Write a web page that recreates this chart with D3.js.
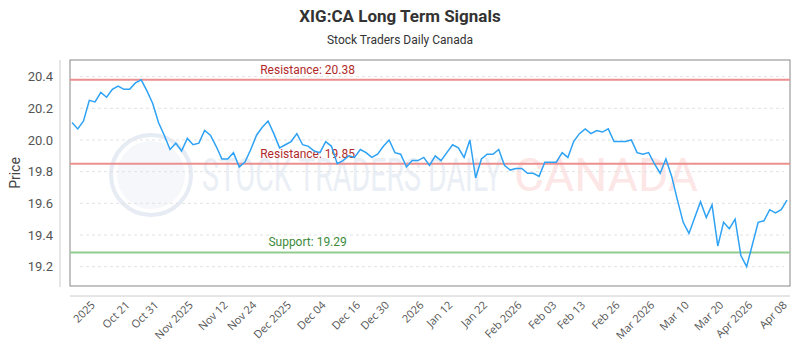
<!DOCTYPE html>
<html>
<head>
<meta charset="utf-8">
<script src="https://cdn.jsdelivr.net/npm/d3@7"></script>
<style>
  body { margin: 0; background: #fff; }
  #chart svg { display: block; }
</style>
</head>
<body>
<div id="chart"></div>
<script>
// closing prices, one per trading day
const prices = [
  20.11, 20.07, 20.12, 20.25, 20.24, 20.30, 20.27, 20.32, 20.34, 20.32,
  20.32, 20.36, 20.38, 20.31, 20.23, 20.11, 20.03, 19.94, 19.98, 19.93,
  20.01, 19.97, 19.98, 20.06, 20.03, 19.96, 19.88, 19.88, 19.92, 19.83,
  19.86, 19.94, 20.03, 20.08, 20.12, 20.04, 19.95, 19.97, 19.99, 20.04,
  19.97, 19.96, 19.93, 19.92, 19.99, 19.96, 19.85, 19.87, 19.90, 19.89,
  19.94, 19.92, 19.89, 19.91, 19.96, 20.00, 19.92, 19.91, 19.83, 19.87,
  19.87, 19.89, 19.84, 19.90, 19.87, 19.92, 19.97, 19.95, 19.89, 20.00,
  19.76, 19.88, 19.91, 19.91, 19.94, 19.84, 19.81, 19.82, 19.82, 19.79,
  19.79, 19.77, 19.86, 19.86, 19.86, 19.92, 19.89, 19.99, 20.04, 20.07,
  20.04, 20.06, 20.05, 20.07, 19.99, 19.99, 19.99, 20.00, 19.92, 19.91,
  19.92, 19.85, 19.79, 19.88, 19.77, 19.62, 19.48, 19.41, 19.51, 19.61,
  19.51, 19.59, 19.33, 19.48, 19.44, 19.50, 19.27, 19.20, 19.34, 19.48,
  19.49, 19.56, 19.54, 19.56, 19.62
];

const tickLabels = ["2025", "Oct 21", "Oct 31", "Nov 2025", "Nov 12", "Nov 24", "Dec 2025",
  "Dec 04", "Dec 16", "Dec 30", "2026", "Jan 12", "Jan 22", "Feb 2026", "Feb 03", "Feb 13",
  "Feb 26", "Mar 2026", "Mar 10", "Mar 20", "Apr 2026", "Apr 08"];
const tickIndex = [4, 10, 15, 21, 27, 32, 38, 44, 50, 55, 61, 66, 72, 78, 84, 89, 95, 101, 107, 113, 118, 124];

const yTicks = [19.2, 19.4, 19.6, 19.8, 20.0, 20.2, 20.4];

const levelNames = ["Resistance", "Resistance", "Support"];
const levelValues = [20.38, 19.85, 19.29];
const levelKinds = ["res", "res", "sup"];

const width = 800, height = 350;
const margin = ({top: 60, right: 10, bottom: 64, left: 70});

const x = d3.scaleLinear()
    .domain([0, prices.length - 1])
    .range([margin.left + 2, width - margin.right - 3]);

const y = d3.scaleLinear()
    .domain([19.078, 20.505])
    .range([height - margin.bottom, margin.top]);

const svg = d3.select("#chart").append("svg")
    .attr("width", width).attr("height", height);

// title
svg.append("text")
    .attr("x", width/2).attr("y", 22)
    .attr("text-anchor", "middle")
    .style("font-family", "Roboto, sans-serif").style("font-size", "17px")
    .style("font-weight", "bold").attr("fill", "#333")
    .text("XIG:CA Long Term Signals");
svg.append("text")
    .attr("x", width/2).attr("y", 44)
    .attr("text-anchor", "middle")
    .style("font-family", "Roboto, sans-serif").style("font-size", "12px")
    .attr("fill", "#333")
    .text("Stock Traders Daily Canada");

// watermark
let wm = svg.append("g").attr("opacity", 0.35);
wm.append("circle")
    .attr("cx", 151).attr("cy", 175).attr("r", 40)
    .attr("fill", "none").attr("stroke", "#b8c8e0").attr("stroke-width", 4);
wm.append("circle")
    .attr("cx", 151).attr("cy", 175).attr("r", 34)
    .attr("fill", "#e4ebf5");
wm.append("text")
    .attr("x", 202).attr("y", 191)
    .attr("textLength", 300).attr("lengthAdjust", "spacingAndGlyphs")
    .style("font-family", "Roboto, sans-serif")
    .style("font-size", "46px")
    .attr("fill", "#c6d3e6")
    .text("STOCK TRADERS DAILY");
wm.append("text")
    .attr("x", 514).attr("y", 191)
    .attr("textLength", 184).attr("lengthAdjust", "spacingAndGlyphs")
    .style("font-family", "Roboto, sans-serif")
    .style("font-size", "46px")
    .attr("fill", "#f7b9b9")
    .text("CANADA");

// grid lines
svg.append("g")
  .selectAll("line")
  .data(yTicks)
  .enter().append("line")
    .attr("x1", margin.left + 10).attr("x2", width - margin.right - 6)
    .attr("y1", d => y(d)).attr("y2", d => y(d))
    .attr("stroke", "#e2e2e2").attr("stroke-dasharray", "3,3");

// frame
svg.append("rect")
    .attr("x", margin.left).attr("y", margin.top)
    .attr("width", width - margin.left - margin.right)
    .attr("height", height - margin.top - margin.bottom)
    .attr("fill", "none").attr("stroke", "#888").attr("stroke-width", 1);

// offset axis lines
svg.append("line")
    .attr("x1", margin.left - 10).attr("x2", margin.left - 10)
    .attr("y1", margin.top).attr("y2", height - margin.bottom + 1)
    .attr("stroke", "#ccc");
svg.append("line")
    .attr("x1", margin.left).attr("x2", width - margin.right)
    .attr("y1", height - margin.bottom + 10).attr("y2", height - margin.bottom + 10)
    .attr("stroke", "#ccc");

// y tick labels
svg.append("g")
  .selectAll("text")
  .data(yTicks)
  .enter().append("text")
    .attr("x", margin.left - 17)
    .attr("y", d => y(d)).attr("dy", "0.35em")
    .attr("text-anchor", "end")
    .style("font-family", "Roboto, sans-serif").style("font-size", "13px")
    .attr("fill", "#555")
    .text(d => d.toFixed(1));

// y axis label
svg.append("text")
    .attr("transform", "rotate(-90)")
    .attr("x", -(margin.top + (height - margin.top - margin.bottom)/2))
    .attr("y", 20)
    .attr("text-anchor", "middle")
    .style("font-family", "Roboto, sans-serif").style("font-size", "14px")
    .attr("fill", "#444")
    .text("Price");

// x tick labels
svg.append("g")
  .selectAll("text")
  .data(tickLabels)
  .enter().append("text")
    .attr("transform", (d, i) => "translate(" + (x(tickIndex[i]) - 2) + "," + (height - margin.bottom + 17) + ") rotate(-45)")
    .attr("text-anchor", "end")
    .attr("dy", "0.35em")
    .style("font-family", "'Open Sans', sans-serif").style("font-size", "11px")
    .attr("fill", "#555")
    .text(d => d);

// support / resistance levels
let levels = svg.append("g");
levels.selectAll("line")
  .data(levelValues)
  .enter().append("line")
    .attr("x1", margin.left).attr("x2", width - margin.right)
    .attr("y1", d => y(d)).attr("y2", d => y(d))
    .attr("stroke", (d, i) => levelKinds[i] == "res" ? "#eb8f8f" : "#92cc8f")
    .attr("stroke-width", 2);
levels.selectAll("text")
  .data(levelValues)
  .enter().append("text")
    .attr("x", margin.left + (width - margin.left - margin.right) * 0.33)
    .attr("y", d => y(d)).attr("dy", -6)
    .attr("text-anchor", "middle")
    .style("font-family", "Roboto, sans-serif").style("font-size", "12px")
    .attr("fill", (d, i) => levelKinds[i] == "res" ? "#b02a2a" : "#3d8a3a")
    .text((d, i) => levelNames[i] + ": " + d.toFixed(2));

// price line
const line = d3.line()
    .x((d, i) => x(i))
    .y(d => y(d));
svg.append("path")
    .datum(prices)
    .attr("d", line)
    .attr("fill", "none")
    .attr("stroke", "#2ea2f4")
    .attr("stroke-width", 1.5);
</script>
</body>
</html>
